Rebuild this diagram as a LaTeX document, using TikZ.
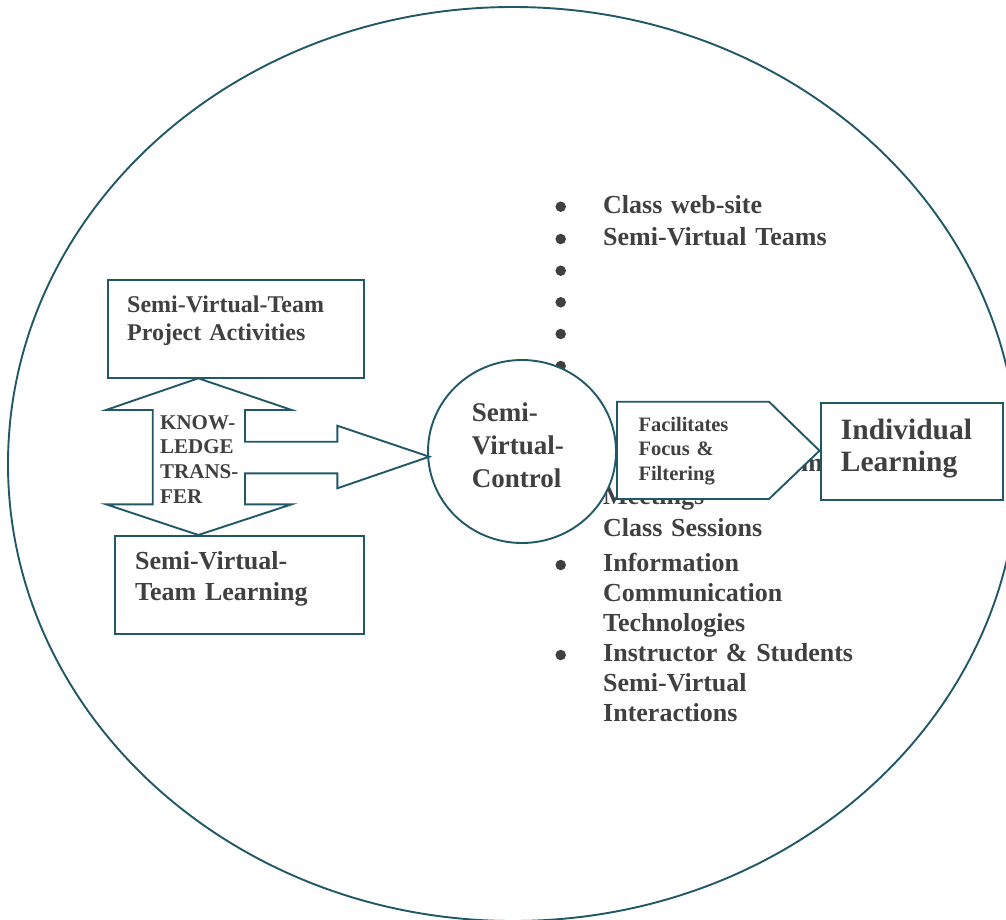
\documentclass[tikz,border=0pt]{standalone}
\usepackage{fontspec}
\setmainfont{Liberation Serif}
\definecolor{tealline}{RGB}{33,88,104}
\definecolor{ink}{RGB}{64,64,64}
\tikzstyle{edge} = [draw=tealline, line width=1.9pt]
\tikzstyle{box} = [edge, fill=white, inner sep=0pt]
\tikzstyle{bul} = [circle, fill=ink, inner sep=0pt, minimum size=10.5pt]
\tikzstyle{lbl} = [anchor=base west, inner sep=0pt, text=ink, align=left, text width=330pt]
\newcommand{\fsz}[2]{\fontsize{#1pt}{#2pt}\selectfont\bfseries}

\begin{document}
\begin{tikzpicture}[x=1pt,y=-1pt]
  \useasboundingbox (0,0) rectangle (1006,920);
  \draw[edge] (513,464) ellipse [x radius=505, y radius=457];

  \node[bul] (b1) at (560.7,206.7) {};
  \node[bul] (b2) at (560.7,239) {};
  \node[bul] (b3) at (560.7,270.7) {};
  \node[bul] (b4) at (560.7,302.3) {};
  \node[bul] (b5) at (560.7,334) {};
  \node[bul] (b6) at (560.7,366) {};
  \node[bul] (b7) at (560.7,565) {};
  \node[bul] (b8) at (560.7,655) {};

  \node[lbl, font=\fsz{26}{31.7}] (web) at (603,213.3) {Class web-site\\Semi-Virtual Teams};
  \node[lbl, text width=40pt, font=\fsz{26}{32}] (frag) at (801,471.7) {m};
  \node[lbl, font=\fsz{26}{32.7}] (meet) at (603,504) {Meetings\\Class Sessions};
  \node[lbl, font=\fsz{26}{30}] (ict) at (603,571.7) {Information\\Communication\\Technologies\\Instructor \& Students\\Semi-Virtual\\Interactions};

  \draw[box] (522,451.5) ellipse [x radius=94, y radius=91.5];
  \node[lbl, text width=120pt, font=\fsz{27}{33.3}] (ctrl) at (471.7,421) {Semi-\\Virtual-\\Control};

  \draw[box] (617,401.7) -- (769,401.7) -- (819.5,450.7) -- (769,499) -- (617,499) -- cycle;
  \node[lbl, text width=130pt, font=\fsz{20.5}{24.2}] (focus) at (638.3,431.7) {Facilitates\\Focus \&\\Filtering};

  \node[box, anchor=north west, minimum width=181.7pt, minimum height=97.6pt] (indiv) at (820,401.7) {};
  \node[lbl, text width=160pt, font=\fsz{29.5}{32.4}] (indivtxt) at (840.7,439.3) {Individual\\Learning};

  \draw[box] (198.3,378.3) -- (291.7,410) -- (245,410) -- (245,441.7) -- (337.3,441.7) -- (337.3,425.7) -- (429.3,456.7) -- (337.3,488.3) -- (337.3,473.3) -- (245,473.3) -- (245,504.3) -- (291.7,504.3) -- (198.3,535) -- (106,504.3) -- (152.7,504.3) -- (152.7,410) -- (106,410) -- cycle;
  \node[lbl, text width=90pt, font=\fsz{21}{24.7}] (know) at (160,429) {KNOW-\\LEDGE\\TRANS-\\FER};

  \node[box, anchor=north west, minimum width=256pt, minimum height=98pt] (proj) at (107,279) {};
  \node[lbl, text width=230pt, font=\fsz{24}{28}] (projtxt) at (127,312) {Semi-Virtual-Team\\Project Activities};

  \node[box, anchor=north west, minimum width=249pt, minimum height=98pt] (learn) at (114,535) {};
  \node[lbl, text width=220pt, font=\fsz{26}{31}] (learntxt) at (135,569.3) {Semi-Virtual-\\Team Learning};
\end{tikzpicture}
\end{document}
